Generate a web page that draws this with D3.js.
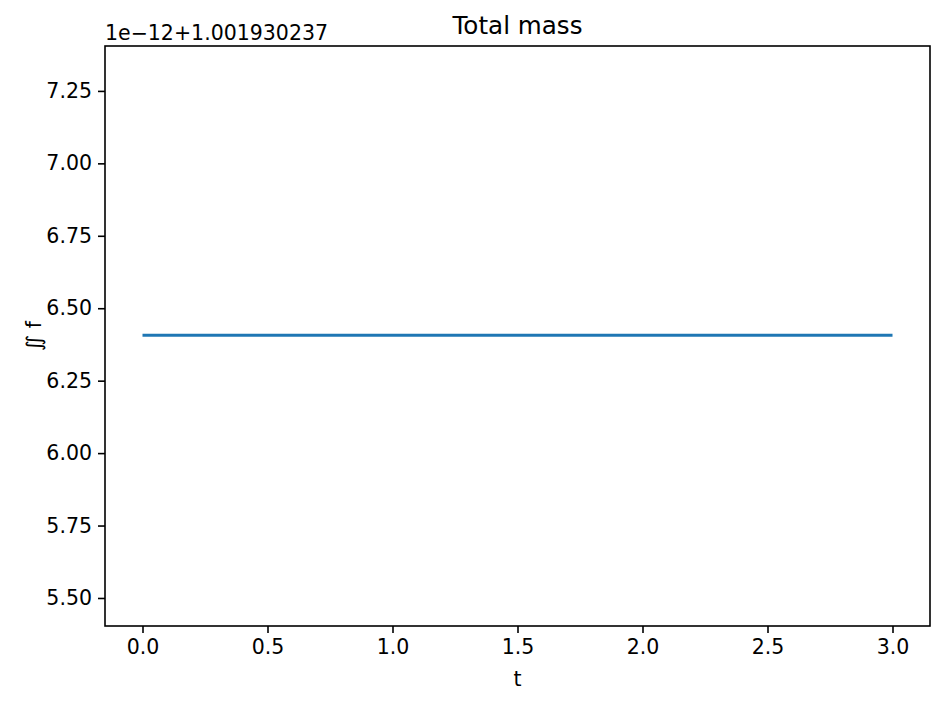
<!DOCTYPE html>
<html>
<head>
<meta charset="utf-8">
<script src="https://cdn.jsdelivr.net/npm/d3@7"></script>
<style>
  body { margin: 0; background: #fff; }
  text { font-family: "DejaVu Sans", sans-serif; fill: #000; }
</style>
</head>
<body>
<svg width="945" height="704"></svg>
<script>
// time points and total mass (in units of 1e-12, offset 1.001930237)
var tValues = [0.0, 0.25, 0.5, 0.75, 1.0, 1.25, 1.5, 1.75, 2.0, 2.25, 2.5, 2.75, 3.0];
var massValues = [6.407, 6.407, 6.407, 6.407, 6.407, 6.407, 6.407, 6.407, 6.407, 6.407, 6.407, 6.407, 6.407];
var xTicks = [0.0, 0.5, 1.0, 1.5, 2.0, 2.5, 3.0];
var yTicks = [5.50, 5.75, 6.00, 6.25, 6.50, 6.75, 7.00, 7.25];
var offsetLabel = "1e\u221212+1.001930237";

var svg = d3.select("svg");
var mLeft = 105, mRight = 930, mTop = 46, mBottom = 626;

var x = d3.scaleLinear().domain([-0.15, 3.15]).range([mLeft, mRight]);
var y = d3.scaleLinear().domain([5.4033, 7.405]).range([mBottom, mTop]);

var data = tValues.map(function(t, i) { return {t: t, m: massValues[i]}; });

var line = d3.line()
  .x(function(d) { return x(d.t); })
  .y(function(d) { return y(d.m); });

svg.append("path")
  .datum(data)
  .attr("fill", "none")
  .attr("stroke", "#1f77b4")
  .attr("stroke-width", 3)
  .attr("d", line);

// axes
var xAxis = d3.axisBottom(x).tickValues(xTicks).tickFormat(d3.format(".1f")).tickSize(7).tickPadding(6);
var yAxis = d3.axisLeft(y).tickValues(yTicks).tickFormat(d3.format(".2f")).tickSize(7).tickPadding(6);

var gx = svg.append("g").attr("transform", "translate(0," + mBottom + ")").call(xAxis);
var gy = svg.append("g").attr("transform", "translate(" + mLeft + ",0)").call(yAxis);

[gx, gy].forEach(function(g) {
  g.select(".domain").remove();
  g.selectAll("line").attr("stroke", "#000").attr("stroke-width", 1.6);
  g.selectAll("text").style("font-size", "20.5px").style("font-family", "DejaVu Sans");
});

svg.append("rect")
  .attr("x", mLeft).attr("y", mTop)
  .attr("width", mRight - mLeft).attr("height", mBottom - mTop)
  .attr("fill", "none").attr("stroke", "#000").attr("stroke-width", 1.6);

svg.append("text")
  .attr("x", (mLeft + mRight) / 2).attr("y", 34)
  .attr("text-anchor", "middle")
  .style("font-size", "24.6px")
  .text("Total mass");

svg.append("text")
  .attr("x", mLeft).attr("y", 40)
  .style("font-size", "20.5px")
  .text(offsetLabel);

svg.append("text")
  .attr("x", (mLeft + mRight) / 2).attr("y", 686)
  .attr("text-anchor", "middle")
  .style("font-size", "20.5px")
  .text("t");

svg.append("text")
  .attr("transform", "translate(41," + ((mTop + mBottom) / 2) + ") rotate(-90)")
  .attr("text-anchor", "middle")
  .style("font-size", "20.5px")
  .text("\u222C f");
</script>
</body>
</html>
